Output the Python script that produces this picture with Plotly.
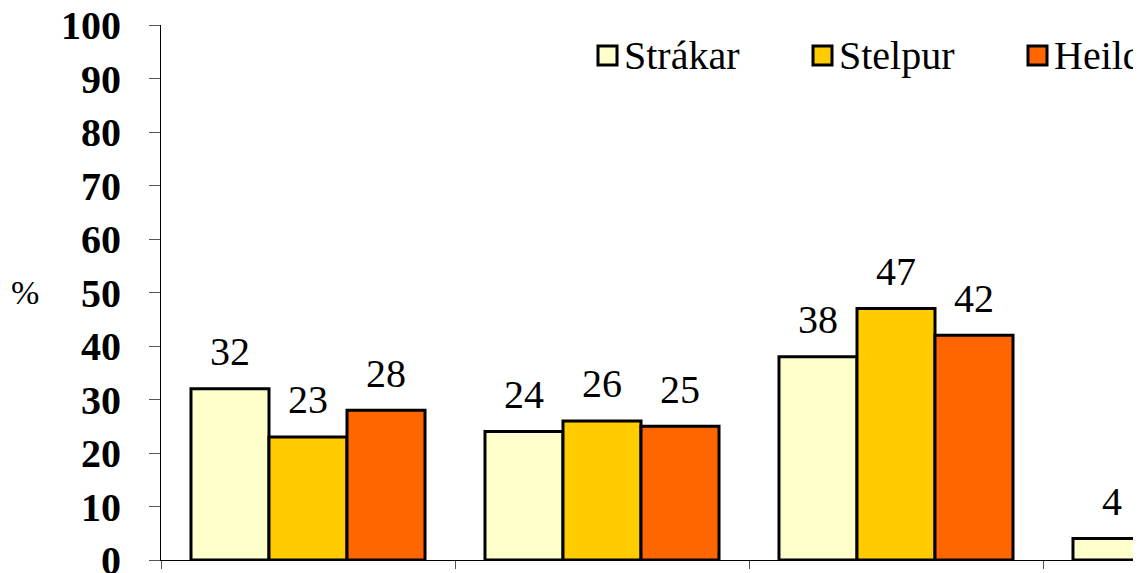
import plotly.graph_objects as go

categories = ["Flokkur 1", "Flokkur 2", "Flokkur 3", "Flokkur 4"]
series_names = ["Strákar", "Stelpur", "Heild"]
strakar = [32, 24, 38, 4]
stelpur = [23, 26, 47, 4]
heild = [28, 25, 42, 5]
y_ticks = [0, 10, 20, 30, 40, 50, 60, 70, 80, 90, 100]

colors = ["#FFFFCC", "#FFCC00", "#FF6600"]
values = [strakar, stelpur, heild]

W, H = 1133, 573
ML, MR, MT, MB = 161, 0, 25, 13
PW, PH = W - ML - MR, H - MT - MB
BARGAP = 0.204
CAT_PX = 294.0


def px_x(x):
    return (x - ML) / PW


def px_y(y):
    return (H - MB - y) / PH


FONT = "Liberation Serif"

fig = go.Figure()
for name, vals, col in zip(series_names, values, colors):
    fig.add_trace(go.Bar(
        x=categories, y=vals, name=name,
        marker=dict(color=col, line=dict(color="black", width=3)),
        showlegend=False,
    ))

annotations = []
bar_w = (1 - BARGAP) / len(series_names)
for k, vals in enumerate(values):
    off = (k - (len(series_names) - 1) / 2) * bar_w
    for i, v in enumerate(vals):
        annotations.append(dict(
            x=i + off, y=v, xref="x", yref="y", text=str(v), showarrow=False,
            yshift=37, yanchor="middle",
            font=dict(family=FONT, size=40, color="black"),
        ))

# y axis title
annotations.append(dict(
    x=px_x(25), y=50, xref="paper", yref="y", text="%", showarrow=False,
    xanchor="center", yanchor="middle",
    font=dict(family=FONT, size=34, color="black"),
))

# custom legend
legend_x = [598, 813, 1028]
shapes = []
for name, col, lx in zip(series_names, colors, legend_x):
    shapes.append(dict(
        type="rect", xref="paper", yref="paper",
        x0=px_x(lx), x1=px_x(lx + 19), y0=px_y(65), y1=px_y(46),
        fillcolor=col, line=dict(color="black", width=3),
    ))
    annotations.append(dict(
        x=px_x(lx + 24), y=px_y(55), xref="paper", yref="paper", text=name,
        showarrow=False, xanchor="left", yanchor="middle",
        font=dict(family=FONT, size=40, color="black"),
    ))

fig.update_layout(
    width=W, height=H,
    margin=dict(l=ML, r=MR, t=MT, b=MB),
    paper_bgcolor="white", plot_bgcolor="white",
    barmode="group", bargap=BARGAP, bargroupgap=0,
    annotations=annotations, shapes=shapes,
    showlegend=False,
    xaxis=dict(
        type="category", range=[-0.5, -0.5 + PW / CAT_PX],
        showticklabels=False, tickson="boundaries", ticks="outside",
        ticklen=8, tickcolor="#555555", showline=True, linecolor="black",
        linewidth=1, showgrid=False, zeroline=False, automargin=False,
    ),
    yaxis=dict(
        range=[0, 100], tickvals=y_ticks, ticks="outside", ticklen=11,
        tickcolor="#555555", showline=True, linecolor="black", linewidth=1,
        showgrid=False, zeroline=False, automargin=False,
        tickfont=dict(family=FONT, size=40, color="black", weight="bold"),
        ticklabelstandoff=20, ticklabeloverflow="allow",
    ),
)

fig.write_html(
    "out.html",
    config={"displayModeBar": False},
    post_script="document.body.style.margin='0';document.body.style.overflow='hidden';",
)
